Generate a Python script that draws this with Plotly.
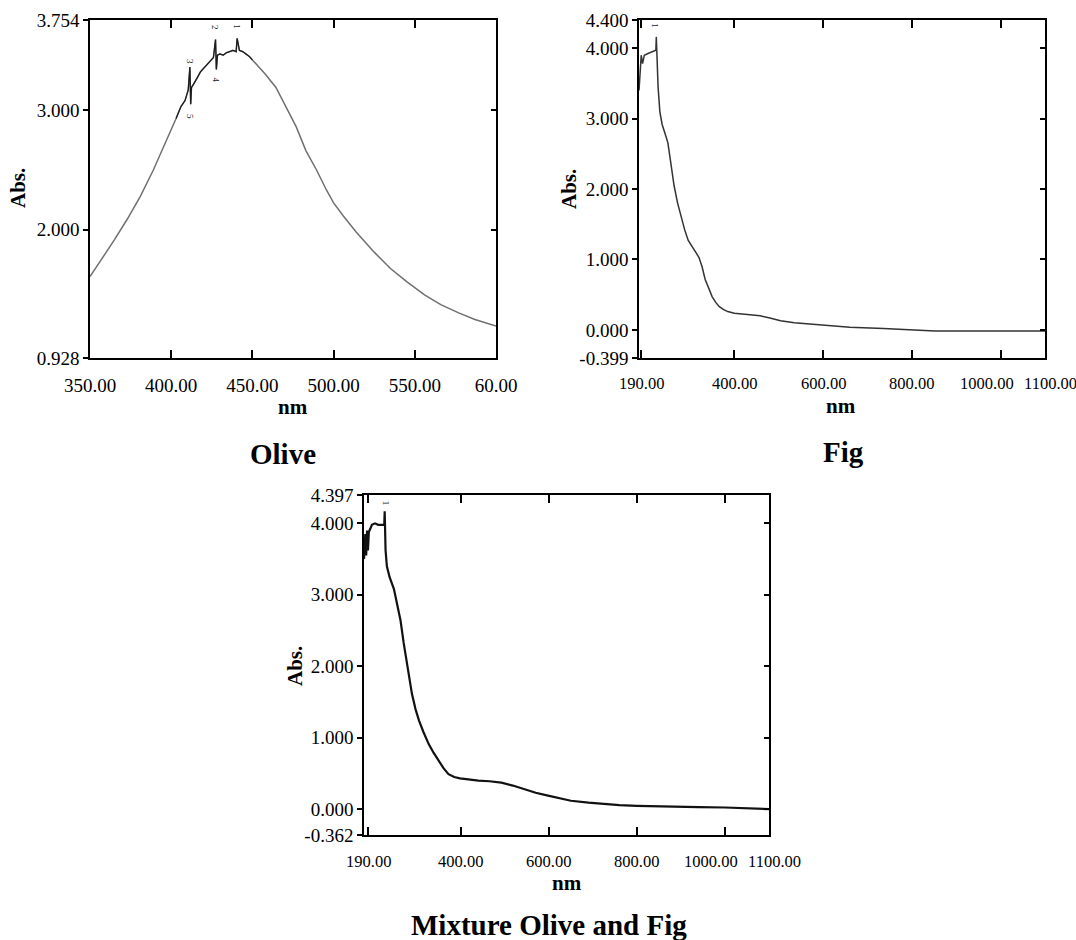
import plotly.graph_objects as go

W, H = 1076, 940
FONT = "Liberation Serif, Times New Roman, serif"

# ---- Olive spectrum (nm, Abs.) ----
olive_nm = [350, 357, 365, 373, 381, 389, 395, 400,
            403, 406, 408.5, 410.5, 411.5, 412, 412.5, 414, 416, 418,
            420, 422, 424, 426, 427.3, 427.8, 428.5, 430, 432, 434,
            436, 438, 440, 440.6, 442, 444, 446, 448, 450, 458,
            464.5, 471, 477, 483, 489.5, 495.5, 500, 506, 514, 525,
            535, 545, 556, 566, 577, 587, 600]
olive_abs = [1.608, 1.75, 1.915, 2.09, 2.28, 2.50, 2.68, 2.84,
             2.93, 3.03, 3.08, 3.17, 3.36, 3.05, 3.19, 3.22, 3.27, 3.32,
             3.35, 3.38, 3.41, 3.44, 3.59, 3.34, 3.46, 3.47, 3.46, 3.48,
             3.49, 3.50, 3.49, 3.60, 3.50, 3.49, 3.47, 3.45, 3.42, 3.30,
             3.19, 3.02, 2.86, 2.66, 2.50, 2.335, 2.225, 2.115, 1.98, 1.813,
             1.676, 1.566, 1.456, 1.374, 1.305, 1.25, 1.195]
# noisy stretch around the maximum (index range in the olive arrays)
olive_peak_from, olive_peak_to = 8, 36

# peak-pick markers on the olive trace: (nm, Abs., label)
olive_peak_nm = [411.6, 411.6, 427.4, 427.4, 440.0]
olive_peak_abs = [3.41, 2.95, 3.69, 3.25, 3.70]
olive_peak_lbl = ["3", "5", "2", "4", "1"]

# ---- Fig spectrum ----
fig_nm = [185, 187.5, 190, 193, 197, 204, 211, 218, 223, 224, 225.5, 228, 232, 237, 244,
          250, 256, 264, 272, 280, 288, 296, 304, 312, 320, 327, 334, 342, 350, 358, 366,
          375, 385, 400, 430, 458, 480, 504, 535, 566, 600, 660, 736, 800, 852, 968, 1100]
fig_abs = [3.40, 3.72, 3.90, 3.78, 3.90, 3.92, 3.94, 3.96, 3.97, 4.16, 3.78, 3.45, 3.10,
           2.92, 2.78, 2.66, 2.40, 2.05, 1.80, 1.60, 1.42, 1.27, 1.18, 1.11, 1.03, 0.90,
           0.72, 0.58, 0.47, 0.39, 0.33, 0.29, 0.26, 0.236, 0.22, 0.20, 0.17, 0.13, 0.10,
           0.085, 0.061, 0.038, 0.019, 0.0, -0.014, -0.014, -0.014]
fig_peak_nm, fig_peak_abs = [221.0], [4.31]

# ---- Mixture of olive and fig ----
mix_nm = [180, 183, 185, 187, 189, 191, 194, 198, 205, 212, 220, 226, 227, 229, 232, 238,
          248, 256, 263, 270, 278, 289, 297, 305, 315, 327, 338, 350, 361, 372, 385, 398,
          420, 440, 465, 492, 518, 545, 570, 598, 625, 650, 690, 725, 760, 800, 875, 940,
          1000, 1060, 1100]
mix_abs = [3.50, 3.85, 3.55, 3.90, 3.62, 3.88, 3.92, 3.98, 4.00, 3.98, 3.98, 3.98, 4.17,
           3.62, 3.40, 3.25, 3.08, 2.85, 2.64, 2.33, 2.00, 1.61, 1.40, 1.24, 1.08, 0.91,
           0.79, 0.68, 0.57, 0.49, 0.45, 0.43, 0.41, 0.40, 0.39, 0.37, 0.33, 0.28, 0.23,
           0.19, 0.15, 0.117, 0.09, 0.07, 0.057, 0.047, 0.033, 0.027, 0.023, 0.015, 0.0]
mix_peak_nm, mix_peak_abs = [230.0], [4.29]

# ---- ticks ----
olive_xticks = [350, 400, 450, 500, 550, 600]
olive_xtext = ["350.00", "400.00", "450.00", "500.00", "550.00", "60.00"]
olive_yticks = [0.928, 2.0, 3.0, 3.754]
olive_ytext = ["0.928", "2.000", "3.000", "3.754"]

spec_xticks = [190, 400, 600, 800, 1000, 1100]
spec_xtext = ["190.00", "400.00", "600.00", "800.00", "1000.00", "1100.00"]
# the last two labels sit close together, so they are nudged apart (pixels)
spec_xtext_shift = [0, 0, 0, 0, -14, 5]

fig_yticks = [-0.399, 0, 1, 2, 3, 4, 4.4]
fig_ytext = ["-0.399", "0.000", "1.000", "2.000", "3.000", "4.000", "4.400"]

mix_yticks = [-0.362, 0, 1, 2, 3, 4, 4.397]
mix_ytext = ["-0.362", "0.000", "1.000", "2.000", "3.000", "4.000", "4.397"]


def fx(x):
    return x / W


def fy(y):
    return 1 - y / H


# panel boxes in pixels: left, right, top, bottom
panels = [
    dict(box=(90, 496, 20, 358), xr=[350, 600], yr=[0.928, 3.754],
         xt=(olive_xticks, olive_xtext), yt=(olive_yticks, olive_ytext), xfs=19,
         own_labels=False),
    dict(box=(639, 1045, 20, 358), xr=[185, 1100], yr=[-0.399, 4.4],
         xt=(spec_xticks, spec_xtext), yt=(fig_yticks, fig_ytext), xfs=16.5,
         own_labels=True),
    dict(box=(364, 769, 495, 835), xr=[180, 1100], yr=[-0.362, 4.397],
         xt=(spec_xticks, spec_xtext), yt=(mix_yticks, mix_ytext), xfs=16.5,
         own_labels=True),
]

fig = go.Figure()

# curves
fig.add_trace(go.Scatter(x=olive_nm, y=olive_abs, mode="lines",
                         line=dict(color="#707070", width=1.5), xaxis="x", yaxis="y",
                         showlegend=False, hoverinfo="skip"))
fig.add_trace(go.Scatter(x=olive_nm[olive_peak_from:olive_peak_to + 1],
                         y=olive_abs[olive_peak_from:olive_peak_to + 1], mode="lines",
                         line=dict(color="#1a1a1a", width=1.2), xaxis="x", yaxis="y",
                         showlegend=False, hoverinfo="skip"))
fig.add_trace(go.Scatter(x=fig_nm, y=fig_abs, mode="lines",
                         line=dict(color="#333333", width=1.5), xaxis="x2", yaxis="y2",
                         showlegend=False, hoverinfo="skip"))
fig.add_trace(go.Scatter(x=mix_nm, y=mix_abs, mode="lines",
                         line=dict(color="#111111", width=2.2), xaxis="x3", yaxis="y3",
                         showlegend=False, hoverinfo="skip"))

# placeholders that bind the right-hand tick axes
for i in range(3):
    fig.add_trace(go.Scatter(x=[None], y=[None], mode="lines", xaxis=f"x{i + 1 if i else ''}",
                             yaxis=f"y{i + 4}", showlegend=False, hoverinfo="skip"))

layout = dict(width=W, height=H, margin=dict(l=0, r=0, t=0, b=0, pad=0, autoexpand=False),
              paper_bgcolor="white", plot_bgcolor="white", showlegend=False)

annotations = []

for i, p in enumerate(panels):
    l, r, t, b = p["box"]
    sfx = "" if i == 0 else str(i + 1)
    ticktext = p["xt"][1]
    if p["own_labels"]:
        # x labels are written as annotations on the axis scale so they can be nudged
        for v, s, dx in zip(p["xt"][0], ticktext, spec_xtext_shift):
            annotations.append(dict(
                x=v, xref="x" + sfx, y=fy(b + 26), yref="paper", text=s,
                showarrow=False, xanchor="center", yanchor="middle", xshift=dx,
                font=dict(family=FONT, size=p["xfs"], color="black")))
        ticktext = [""] * len(ticktext)
    layout["xaxis" + sfx] = dict(
        domain=[fx(l), fx(r)], range=p["xr"], anchor="y" + sfx, automargin=False,
        tickmode="array", tickvals=p["xt"][0], ticktext=ticktext, tickangle=0,
        ticks="inside", ticklen=8, tickwidth=1.5, tickcolor="black",
        showline=True, linecolor="black", linewidth=1.6, mirror="ticks",
        showgrid=False, zeroline=False, ticklabelstandoff=9,
        tickfont=dict(family=FONT, size=p["xfs"], color="black"))
    layout["yaxis" + sfx] = dict(
        domain=[fy(b), fy(t)], range=p["yr"], anchor="x" + sfx, automargin=False,
        tickmode="array", tickvals=p["yt"][0], ticktext=p["yt"][1],
        ticks="outside", ticklen=5, tickwidth=1.5, tickcolor="black",
        showline=True, linecolor="black", linewidth=1.6, mirror=True,
        showgrid=False, zeroline=False,
        tickfont=dict(family=FONT, size=19, color="black"))
    layout[f"yaxis{i + 4}"] = dict(
        overlaying="y" + sfx, anchor="x" + sfx, side="right", range=p["yr"],
        automargin=False,
        tickmode="array", tickvals=p["yt"][0], ticks="inside", ticklen=5,
        tickwidth=1.5, tickcolor="black", showticklabels=False,
        showline=False, showgrid=False, zeroline=False)

fig.update_layout(**layout)


def text(x, y, s, size, angle=0):
    annotations.append(dict(x=fx(x), y=fy(y), xref="paper", yref="paper",
                            text=f"<b>{s}</b>", showarrow=False,
                            xanchor="center", yanchor="middle", textangle=angle,
                            font=dict(family=FONT, size=size, color="black")))


# axis titles
text(293, 407, "nm", 21)
text(841, 406, "nm", 21)
text(567, 883, "nm", 21)
text(18, 188, "Abs.", 21, angle=-90)
text(569, 189, "Abs.", 21, angle=-90)
text(295, 666, "Abs.", 21, angle=-90)

# panel captions
text(283, 454, "Olive", 29)
text(843, 452, "Fig", 29)
text(549, 925, "Mixture Olive and Fig", 29)

# peak-pick labels drawn in data coordinates
for xv, yv, s in zip(olive_peak_nm, olive_peak_abs, olive_peak_lbl):
    annotations.append(dict(x=xv, y=yv, xref="x", yref="y", text=s, showarrow=False,
                            textangle=90, font=dict(family=FONT, size=9, color="#222222")))
for xv, yv in zip(fig_peak_nm, fig_peak_abs):
    annotations.append(dict(x=xv, y=yv, xref="x2", yref="y2", text="1", showarrow=False,
                            textangle=90, font=dict(family=FONT, size=9, color="#222222")))
for xv, yv in zip(mix_peak_nm, mix_peak_abs):
    annotations.append(dict(x=xv, y=yv, xref="x3", yref="y3", text="1", showarrow=False,
                            textangle=90, font=dict(family=FONT, size=9, color="#222222")))

fig.update_layout(annotations=annotations)

fig.write_html("out.html")
